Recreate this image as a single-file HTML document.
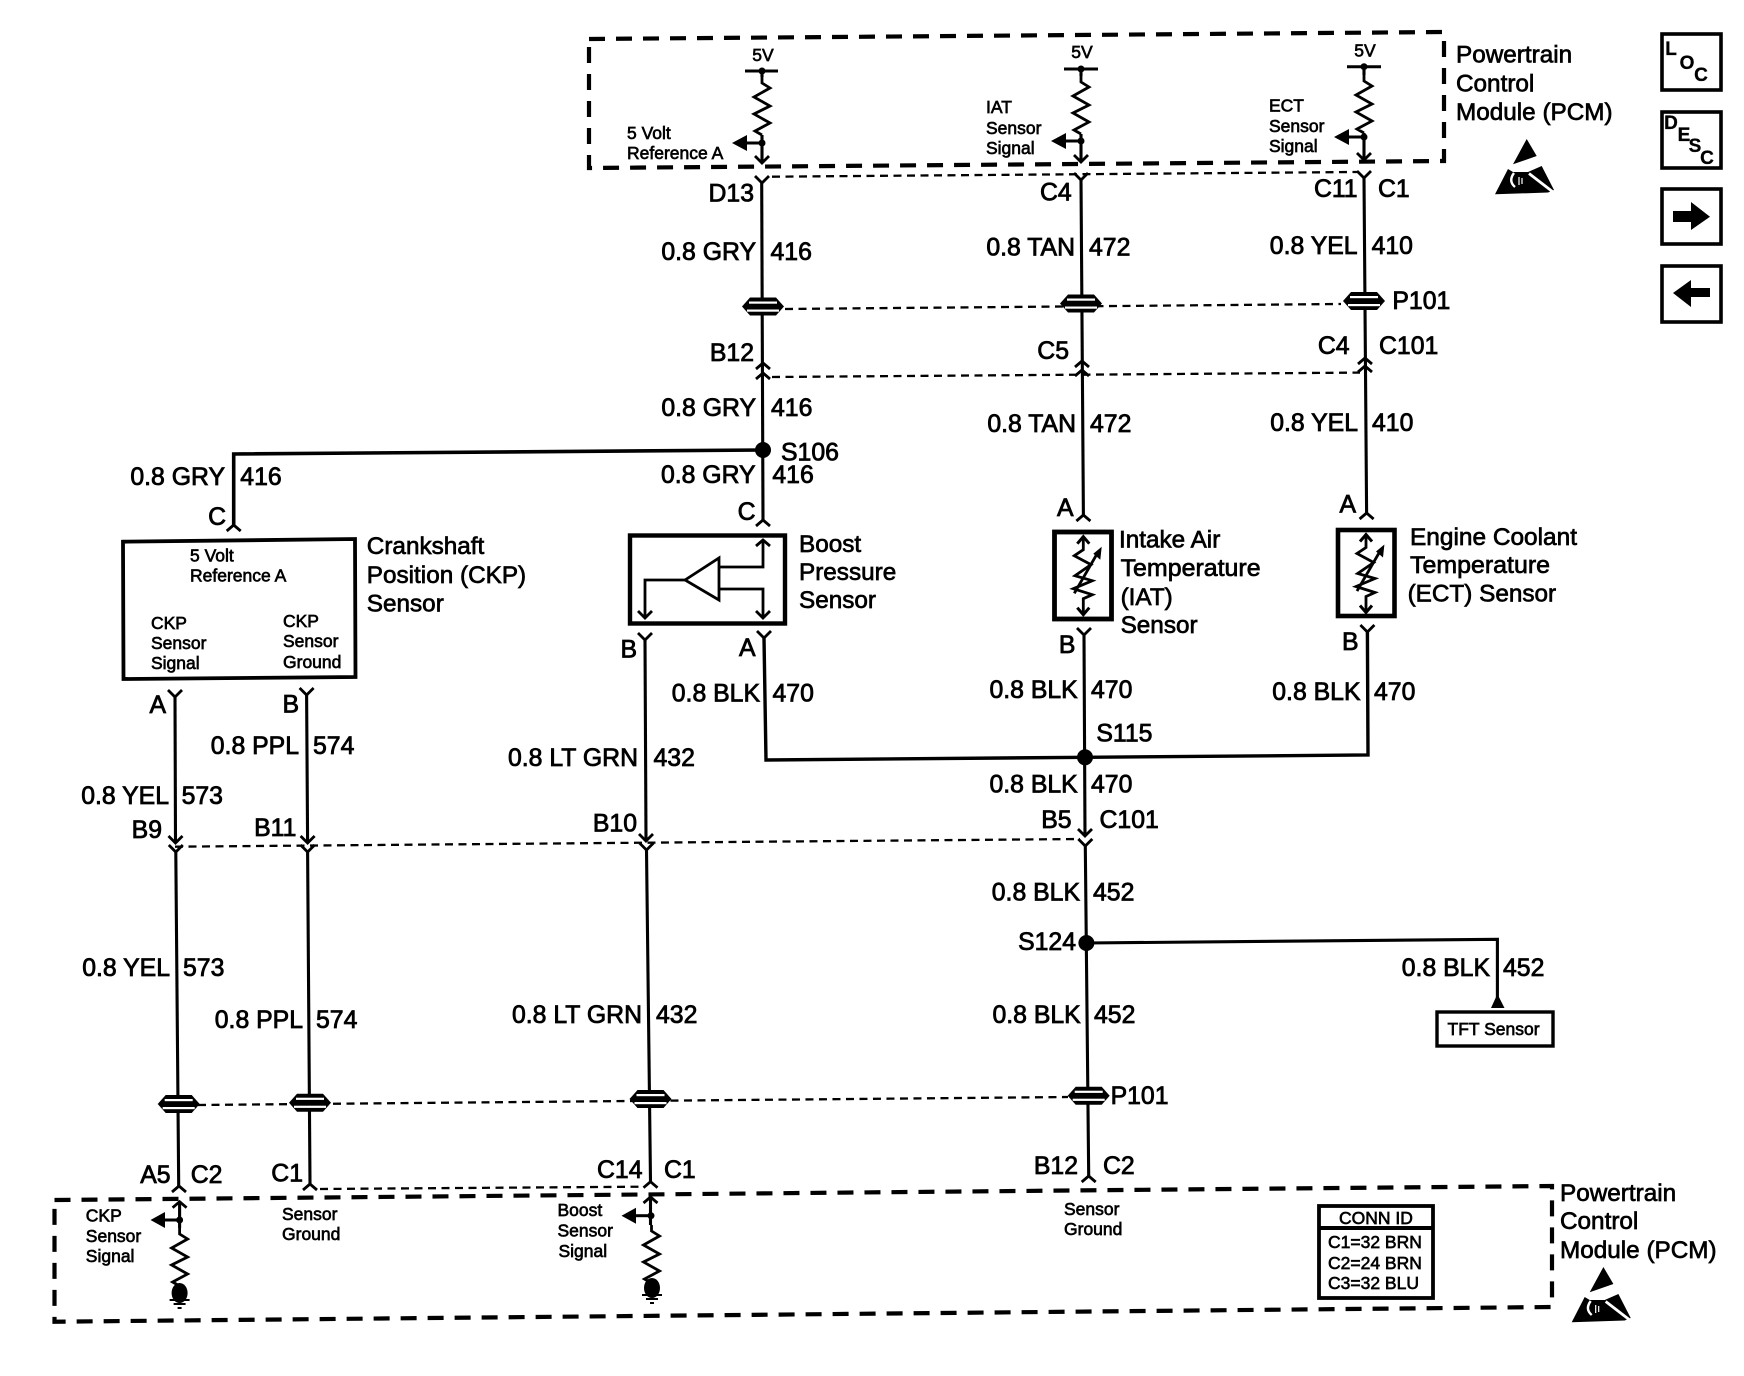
<!DOCTYPE html>
<html>
<head>
<meta charset="utf-8">
<style>
html,body{margin:0;padding:0;background:#fff;width:1744px;height:1376px;overflow:hidden}
svg{display:block}
text{font-family:"Liberation Sans",sans-serif;fill:#000;stroke:#000}
.b{font-size:24.8px;stroke-width:.8}
.n{font-size:24.3px;stroke-width:.7}
.s{font-size:17.5px;stroke-width:.65}
.e{text-anchor:end}
.m{text-anchor:middle}
.w{fill:none;stroke:#000;stroke-width:3.1}
.t{fill:none;stroke:#000;stroke-width:2.3;stroke-dasharray:8 5.5}
.d{fill:none;stroke:#000;stroke-width:4.2;stroke-dasharray:16 11}
.l{font-size:19px;font-weight:bold;stroke-width:.3}
</style>
</head>
<body>
<svg width="1744" height="1376" viewBox="0 0 1744 1376" xmlns="http://www.w3.org/2000/svg">
<defs>
<polyline id="res" points="0,0 0,6 8,11 -8,20 8,29 -8,37 8,46 -7,54 0,58" fill="none" stroke="#000" stroke-width="2.8"/>
<polyline id="v" points="-7,-7 0,0 7,-7" fill="none" stroke="#000" stroke-width="2.8"/>
<polyline id="n" points="-7,6 0,0 7,6" fill="none" stroke="#000" stroke-width="2.8"/>
<g id="spl">
<polygon points="-21,0 -13,-9 13,-9 21,0 13,9 -13,9" fill="#000"/>
<rect x="-14" y="-5" width="28" height="2.2" fill="#fff"/>
<rect x="-16" y="3" width="32" height="2.2" fill="#fff"/>
</g>
<g id="gnd">
<ellipse cx="0" cy="0" rx="8" ry="10" fill="#000"/>
<path d="M-10,7H10M-6,11H6M-2,15H2" stroke="#000" stroke-width="2" fill="none"/>
</g>
<g id="esd">
<polygon points="1526.7,139 1536.7,156 1513,164.3" fill="#000"/>
<polygon points="1495,194.3 1508,169 1513,172 1528,172 1541.7,166 1554,190 1548,192.5" fill="#000"/>
<path d="M1529,173.5L1553,192" stroke="#fff" stroke-width="2.8" fill="none"/>
<path d="M1514,173Q1508,181 1515,187" stroke="#fff" stroke-width="2.4" fill="none"/>
<path d="M1519,177v8M1522,178v6" stroke="#fff" stroke-width="1.2" fill="none"/>
</g>
<g id="therm">
<polyline points="0,0 0,13 -9,19 7.7,28 -8.3,39 9,44 -10,52 9,58 0,62 0,78" fill="none" stroke="#000" stroke-width="2.8"/>
<polyline points="-6,7 0,0 6,7" fill="none" stroke="#000" stroke-width="3"/>
<polyline points="-6,71 0,78 6,71" fill="none" stroke="#000" stroke-width="3"/>
<path d="M-9,56.6L15,15" stroke="#000" stroke-width="2.8" fill="none"/>
<polygon points="18.4,10 10,17 17,23" fill="#000"/>
</g>
</defs>

<!-- top PCM -->
<path class="d" d="M589,39L1444,32L1444,161L589,168Z"/>
<!-- bottom PCM -->
<path class="d" d="M54.5,1200L1552,1186L1552,1307L54.5,1321.7Z"/>

<!-- internal top col1 -->
<path d="M745,71H778" stroke="#000" stroke-width="3"/><circle cx="762" cy="71" r="3.5"/>
<path class="w" d="M762,71V77M762,135V162"/>
<use href="#res" x="762" y="77"/>
<use href="#v" x="762" y="163"/>
<circle cx="762" cy="143" r="3.5"/><path d="M746,143H762" stroke="#000" stroke-width="3"/>
<polygon points="732,143 747,135 747,151"/>
<!-- col2 -->
<path d="M1064,69H1098" stroke="#000" stroke-width="3"/><circle cx="1081" cy="69" r="3.5"/>
<path class="w" d="M1081,69V76M1081,134V161"/>
<use href="#res" x="1081" y="76"/>
<use href="#v" x="1081" y="162"/>
<circle cx="1081" cy="141" r="3.5"/><path d="M1065,141H1081" stroke="#000" stroke-width="3"/>
<polygon points="1051,141 1066,133 1066,149"/>
<!-- col3 -->
<path d="M1347,66.7H1381" stroke="#000" stroke-width="3"/><circle cx="1364" cy="66.7" r="3.5"/>
<path class="w" d="M1364,67V75M1364,133V159"/>
<use href="#res" x="1364" y="75"/>
<use href="#v" x="1364" y="160"/>
<circle cx="1364" cy="137" r="3.5"/><path d="M1348,137H1364" stroke="#000" stroke-width="3"/>
<polygon points="1334,137 1349,129 1349,145"/>

<!-- thin shared connector dashes -->
<path class="t" d="M772,176.7L1357,172"/>
<path class="t" d="M785,309L1341,304"/>
<path class="t" d="M772,377L1360,372.6"/>
<path class="t" d="M175,846.7L1080,839"/>
<path class="t" d="M198,1105L1068,1097"/>
<path class="t" d="M320,1189L642,1186.7"/>

<!-- main wires -->
<path class="w" d="M761.7,183L763,520"/>
<path class="w" d="M1081,180L1083.4,515"/>
<path class="w" d="M1364,178L1366.6,513"/>
<path class="w" d="M764,638L766,760L1085,757.3L1368,755L1367.4,632" style="stroke-width:3.4"/>
<path class="w" d="M1084,635L1085,836"/>
<path class="w" d="M1085.3,846L1088.7,1176"/>
<path class="w" d="M175,697L175.5,842"/>
<path class="w" d="M175.8,852L178.7,1186"/>
<path class="w" d="M306.6,695L307.6,842"/>
<path class="w" d="M307.6,852L310,1184"/>
<path class="w" d="M645,640L646,840"/>
<path class="w" d="M646.5,850L650.5,1181.7"/>
<path class="w" d="M233.7,525V454L763,450" style="stroke-width:3.6"/>
<path class="w" d="M1086.4,943L1497.4,939.3V1000"/>

<!-- connector symbols -->
<use href="#v" x="762" y="183"/><use href="#v" x="1081" y="180"/><use href="#v" x="1364" y="178"/>
<use href="#n" x="763" y="363"/><use href="#n" x="763" y="373"/>
<use href="#n" x="1082" y="361"/><use href="#n" x="1082" y="370"/>
<use href="#n" x="1365" y="358"/><use href="#n" x="1365" y="366"/>
<use href="#n" x="233.7" y="525"/><use href="#n" x="763" y="520"/>
<use href="#n" x="1083.4" y="515"/><use href="#n" x="1366.6" y="513"/>
<use href="#v" x="645" y="640"/><use href="#v" x="764" y="638"/>
<use href="#v" x="175" y="697"/><use href="#v" x="306.6" y="695"/>
<use href="#v" x="1084" y="635"/><use href="#v" x="1367.4" y="632"/>
<use href="#v" x="175.5" y="843"/><use href="#v" x="175.8" y="852"/>
<use href="#v" x="307.6" y="843"/><use href="#v" x="307.6" y="852"/>
<use href="#v" x="646" y="841"/><use href="#v" x="646.5" y="850"/>
<use href="#v" x="1085" y="836"/><use href="#v" x="1085.3" y="846"/>
<use href="#n" x="179" y="1186"/><use href="#n" x="310" y="1184"/>
<use href="#n" x="650.5" y="1181.7"/><use href="#n" x="1088.7" y="1176"/>

<!-- splices -->
<use href="#spl" x="763" y="306.5"/><use href="#spl" x="1081" y="303.5"/><use href="#spl" x="1364" y="301"/>
<use href="#spl" x="178.7" y="1104"/><use href="#spl" x="310" y="1102.7"/><use href="#spl" x="650.5" y="1099"/><use href="#spl" x="1088.7" y="1095.7"/>

<!-- junction dots -->
<circle cx="763" cy="450" r="8"/><circle cx="1085" cy="757.3" r="8"/><circle cx="1086.4" cy="943" r="8"/>

<!-- CKP sensor box -->
<path d="M123,541.7L355,539L355.5,677L123.5,679Z" fill="none" stroke="#000" stroke-width="3.8"/>
<!-- Boost box -->
<rect x="630" y="535.5" width="155" height="88" fill="none" stroke="#000" stroke-width="4.4"/>
<polygon points="685,580 719,558 719,600" fill="none" stroke="#000" stroke-width="2.8"/>
<path class="w" d="M685,580H645V617M719,567H763V541M719,589H763V617" style="stroke-width:2.8"/>
<use href="#v" x="645" y="618"/><use href="#v" x="763" y="618"/><use href="#n" x="763" y="540"/>
<!-- IAT box -->
<rect x="1054.5" y="532" width="57" height="87" fill="none" stroke="#000" stroke-width="4.8"/>
<use href="#therm" x="1083.3" y="536.7"/>
<!-- ECT box -->
<rect x="1338" y="530" width="56.5" height="86" fill="none" stroke="#000" stroke-width="4.6"/>
<use href="#therm" x="1366" y="534.5"/>

<!-- TFT -->
<polygon points="1497.4,994 1504.5,1008 1491,1008"/>
<rect x="1437" y="1012" width="116" height="34" fill="none" stroke="#000" stroke-width="3.4"/>

<!-- bottom internal CKP -->
<path class="w" d="M179.6,1202V1228M179.6,1286V1293"/>
<use href="#n" x="179.6" y="1201.7"/>
<circle cx="179.6" cy="1220" r="3.5"/><path d="M164,1220H179" stroke="#000" stroke-width="3"/>
<polygon points="150.5,1220 165,1212 165,1228"/>
<use href="#res" x="179.6" y="1228"/>
<use href="#gnd" x="179.6" y="1293"/>
<!-- bottom internal Boost -->
<path class="w" d="M650.5,1197V1225M651.5,1283V1288"/>
<use href="#n" x="650.5" y="1197"/>
<circle cx="651" cy="1215.7" r="3.5"/><path d="M635,1215.7H651" stroke="#000" stroke-width="3"/>
<polygon points="621.5,1215.7 636,1207.7 636,1223.7"/>
<use href="#res" x="651.5" y="1225"/>
<use href="#gnd" x="652" y="1288"/>

<!-- CONN ID -->
<rect x="1319" y="1206" width="114" height="92" fill="none" stroke="#000" stroke-width="3.8"/>
<path d="M1319,1228H1433" stroke="#000" stroke-width="4"/>

<!-- Nav boxes -->
<rect x="1662" y="34" width="59" height="56" fill="none" stroke="#000" stroke-width="3.6"/>
<rect x="1662" y="112" width="59" height="56" fill="none" stroke="#000" stroke-width="3.6"/>
<rect x="1662" y="189" width="59" height="55" fill="none" stroke="#000" stroke-width="3.6"/>
<rect x="1662" y="266" width="59" height="56" fill="none" stroke="#000" stroke-width="3.6"/>
<polygon points="1673,211 1691,211 1691,202 1710,216.7 1691,230 1691,222 1673,222"/>
<polygon points="1673,293 1691,280 1691,288 1710,288 1710,297 1691,297 1691,307"/>
<text class="l m" x="1671" y="55">L</text>
<text class="l m" x="1687" y="69">O</text>
<text class="l m" x="1701" y="81">C</text>
<text class="l m" x="1671" y="129">D</text>
<text class="l m" x="1684" y="141">E</text>
<text class="l m" x="1695" y="152">S</text>
<text class="l m" x="1707" y="164">C</text>

<!-- ESD icons -->
<use href="#esd"/>
<use href="#esd" x="76.7" y="1128"/>

<!-- small labels -->
<text class="s m" x="763" y="61">5V</text>
<text class="s m" x="1082" y="58">5V</text>
<text class="s m" x="1365" y="56.7">5V</text>
<text class="s" x="627" y="139">5 Volt</text>
<text class="s" x="627" y="159">Reference A</text>
<text class="s" x="986" y="113">IAT</text>
<text class="s" x="986" y="134">Sensor</text>
<text class="s" x="986" y="154">Signal</text>
<text class="s" x="1269" y="111.7">ECT</text>
<text class="s" x="1269" y="132">Sensor</text>
<text class="s" x="1269" y="152">Signal</text>
<text class="s" x="190" y="561.7">5 Volt</text>
<text class="s" x="190" y="581.7">Reference A</text>
<text class="s" x="151" y="629">CKP</text>
<text class="s" x="151" y="649">Sensor</text>
<text class="s" x="151" y="669">Signal</text>
<text class="s" x="283" y="627">CKP</text>
<text class="s" x="283" y="647">Sensor</text>
<text class="s" x="283" y="668">Ground</text>
<text class="s" x="1447.5" y="1035">TFT Sensor</text>
<text class="s" x="85.8" y="1221.7">CKP</text>
<text class="s" x="85.8" y="1242">Sensor</text>
<text class="s" x="85.8" y="1262">Signal</text>
<text class="s" x="282" y="1220">Sensor</text>
<text class="s" x="282" y="1240">Ground</text>
<text class="s" x="557.5" y="1216">Boost</text>
<text class="s" x="557.5" y="1236.7">Sensor</text>
<text class="s" x="558.5" y="1257">Signal</text>
<text class="s" x="1064" y="1215">Sensor</text>
<text class="s" x="1064" y="1235">Ground</text>
<text class="s m" x="1376" y="1224">CONN ID</text>
<text class="s" x="1328" y="1248">C1=32 BRN</text>
<text class="s" x="1328" y="1269">C2=24 BRN</text>
<text class="s" x="1328" y="1289">C3=32 BLU</text>

<!-- large labels -->
<text class="b e" x="754" y="201.7">D13</text>
<text class="b e" x="1071.7" y="200.7">C4</text>
<text class="b e" x="1357.6" y="197">C11</text>
<text class="b" x="1378" y="197">C1</text>
<text class="b e" x="756" y="260">0.8 GRY</text>
<text class="b" x="770.5" y="260">416</text>
<text class="b e" x="1075" y="255.7">0.8 TAN</text>
<text class="b" x="1089" y="255.7">472</text>
<text class="b e" x="1357.6" y="254">0.8 YEL</text>
<text class="b" x="1371.6" y="254">410</text>
<text class="b" x="1392.4" y="309">P101</text>
<text class="b e" x="754" y="361">B12</text>
<text class="b e" x="1069" y="359">C5</text>
<text class="b e" x="1349.6" y="354">C4</text>
<text class="b" x="1379" y="354">C101</text>
<text class="b e" x="756" y="416">0.8 GRY</text>
<text class="b" x="771" y="416">416</text>
<text class="b e" x="1076" y="432">0.8 TAN</text>
<text class="b" x="1090" y="432">472</text>
<text class="b e" x="1358" y="431">0.8 YEL</text>
<text class="b" x="1372" y="431">410</text>
<text class="b" x="781" y="460.7">S106</text>
<text class="b e" x="225" y="485">0.8 GRY</text>
<text class="b" x="240.3" y="485">416</text>
<text class="b e" x="755.6" y="483">0.8 GRY</text>
<text class="b" x="772.4" y="483">416</text>
<text class="b e" x="226" y="525">C</text>
<text class="b e" x="755.6" y="520">C</text>
<text class="b e" x="1073.5" y="516">A</text>
<text class="b e" x="1356" y="512.7">A</text>
<text class="n" x="366.8" y="554">Crankshaft</text>
<text class="n" x="366.8" y="583">Position (CKP)</text>
<text class="n" x="366.8" y="611.7">Sensor</text>
<text class="n" x="799" y="552">Boost</text>
<text class="n" x="799" y="580">Pressure</text>
<text class="n" x="799" y="608">Sensor</text>
<text class="n" x="1119" y="547.7">Intake Air</text>
<text class="n" x="1120.6" y="576" textLength="140" lengthAdjust="spacingAndGlyphs">Temperature</text>
<text class="n" x="1120.6" y="605">(IAT)</text>
<text class="n" x="1120.6" y="633">Sensor</text>
<text class="n" x="1410" y="545" textLength="167" lengthAdjust="spacingAndGlyphs">Engine Coolant</text>
<text class="n" x="1410" y="573" textLength="140" lengthAdjust="spacingAndGlyphs">Temperature</text>
<text class="n" x="1407.6" y="601.7">(ECT) Sensor</text>
<text class="b e" x="637" y="657.7">B</text>
<text class="b e" x="755.6" y="656">A</text>
<text class="b e" x="1075.4" y="653">B</text>
<text class="b e" x="1358.6" y="650">B</text>
<text class="b e" x="166" y="713">A</text>
<text class="b e" x="299" y="712.7">B</text>
<text class="b e" x="760" y="701.7">0.8 BLK</text>
<text class="b" x="772.5" y="701.7">470</text>
<text class="b e" x="1077.7" y="698">0.8 BLK</text>
<text class="b" x="1091" y="698">470</text>
<text class="b e" x="1360.5" y="700">0.8 BLK</text>
<text class="b" x="1374" y="700">470</text>
<text class="b" x="1096.4" y="741.7">S115</text>
<text class="b e" x="299" y="754">0.8 PPL</text>
<text class="b" x="313" y="754">574</text>
<text class="b e" x="638" y="766">0.8 LT GRN</text>
<text class="b" x="653.5" y="766">432</text>
<text class="b e" x="169" y="804">0.8 YEL</text>
<text class="b" x="181.6" y="804">573</text>
<text class="b e" x="1077.7" y="792.7">0.8 BLK</text>
<text class="b" x="1091" y="792.7">470</text>
<text class="b e" x="162" y="838">B9</text>
<text class="b e" x="296.4" y="836">B11</text>
<text class="b e" x="637" y="831.7">B10</text>
<text class="b e" x="1071.6" y="828">B5</text>
<text class="b" x="1099.5" y="828">C101</text>
<text class="b e" x="1080" y="900.7">0.8 BLK</text>
<text class="b" x="1093" y="900.7">452</text>
<text class="b e" x="1076" y="950">S124</text>
<text class="b e" x="170" y="976">0.8 YEL</text>
<text class="b" x="183" y="976">573</text>
<text class="b e" x="1490" y="976">0.8 BLK</text>
<text class="b" x="1503" y="976">452</text>
<text class="b e" x="303" y="1028">0.8 PPL</text>
<text class="b" x="316" y="1028">574</text>
<text class="b e" x="642" y="1023">0.8 LT GRN</text>
<text class="b" x="656" y="1023">432</text>
<text class="b e" x="1080.7" y="1023">0.8 BLK</text>
<text class="b" x="1094" y="1023">452</text>
<text class="b" x="1110.6" y="1104">P101</text>
<text class="b e" x="170.6" y="1183">A5</text>
<text class="b" x="190.7" y="1183">C2</text>
<text class="b e" x="303" y="1181.7">C1</text>
<text class="b e" x="642.5" y="1178">C14</text>
<text class="b" x="664" y="1178">C1</text>
<text class="b e" x="1078" y="1174">B12</text>
<text class="b" x="1103" y="1174">C2</text>

<text class="n" x="1456" y="62.7">Powertrain</text>
<text class="n" x="1456" y="91.7">Control</text>
<text class="n" x="1456" y="120">Module (PCM)</text>
<text class="n" x="1560" y="1201">Powertrain</text>
<text class="n" x="1560" y="1229">Control</text>
<text class="n" x="1560" y="1258">Module (PCM)</text>
</svg>
</body>
</html>
